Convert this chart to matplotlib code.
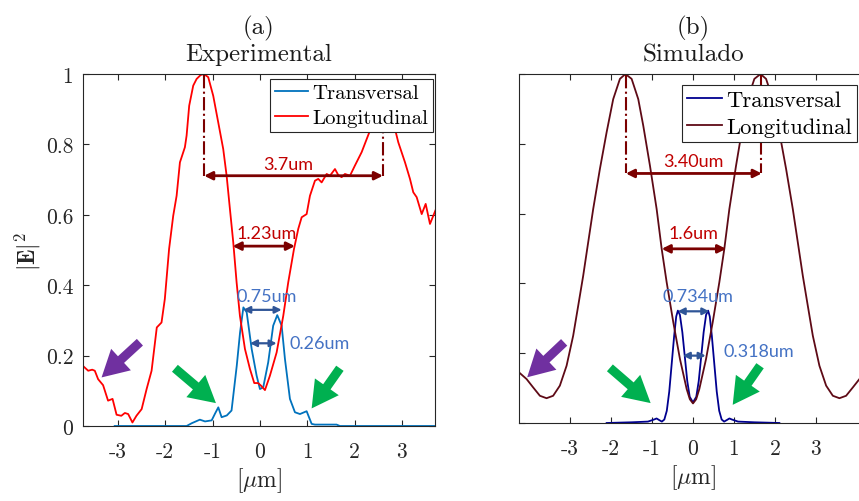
import matplotlib
matplotlib.use("Agg")
import matplotlib.pyplot as plt

plt.rcParams['font.family'] = ['cmr10']
plt.rcParams['mathtext.fontset'] = 'cm'
plt.rcParams['axes.formatter.use_mathtext'] = True

# ---------------- data: (a) experimental ----------------
exp_long_x = [-3.735, -3.63, -3.545, -3.49, -3.42, -3.315, -3.21, -3.115, -3.03, -2.93,
              -2.855, -2.785, -2.695, -2.61, -2.5, -2.395, -2.29, -2.18, -2.08, -2.01,
              -1.92, -1.833, -1.761, -1.691, -1.586, -1.55, -1.495, -1.41, -1.338, -1.254,
              -1.184, -1.093, -0.987, -0.882, -0.776, -0.704, -0.634, -0.564, -0.493, -0.423,
              -0.317, -0.211, -0.12, -0.04, 0.02, 0.106, 0.211, 0.353, 0.493, 0.598,
              0.72, 0.81, 0.882, 0.987, 1.057, 1.163, 1.233, 1.304, 1.41, 1.48,
              1.586, 1.655, 1.727, 1.797, 1.903, 2.008, 2.15, 2.256, 2.325, 2.45,
              2.6, 2.75, 2.854, 2.924, 3.066, 3.171, 3.241, 3.313, 3.419, 3.503,
              3.594, 3.72]
exp_long_y = [0.170, 0.157, 0.160, 0.157, 0.133, 0.116, 0.072, 0.077, 0.032, 0.029,
              0.037, 0.034, 0.010, 0.029, 0.048, 0.105, 0.157, 0.280, 0.294, 0.361,
              0.503, 0.597, 0.654, 0.749, 0.792, 0.825, 0.910, 0.967, 0.986, 0.997,
              1.000, 0.991, 0.938, 0.863, 0.787, 0.711, 0.616, 0.522, 0.408, 0.313,
              0.219, 0.162, 0.122, 0.122, 0.115, 0.102, 0.143, 0.209, 0.313, 0.408,
              0.503, 0.560, 0.593, 0.602, 0.654, 0.697, 0.702, 0.692, 0.716, 0.711,
              0.730, 0.713, 0.707, 0.716, 0.711, 0.740, 0.778, 0.815, 0.839, 0.865,
              0.875, 0.862, 0.844, 0.806, 0.749, 0.702, 0.664, 0.650, 0.602, 0.631,
              0.574, 0.616]

exp_trans_x = [-3.07, -1.55, -1.44, -1.27, -1.16, -1.02, -0.95, -0.88, -0.81, -0.70,
               -0.60, -0.49, -0.42, -0.35, -0.28, -0.175, -0.07, 0.0, 0.07, 0.175,
               0.28, 0.366, 0.459, 0.529, 0.634, 0.74, 0.846, 0.987, 1.093, 1.163,
               1.62, 1.69, 3.72]
exp_trans_y = [0.0, 0.0, 0.008, 0.018, 0.013, 0.016, 0.035, 0.053, 0.025, 0.030,
               0.044, 0.171, 0.266, 0.337, 0.323, 0.219, 0.143, 0.105, 0.110, 0.181,
               0.285, 0.315, 0.285, 0.190, 0.077, 0.039, 0.034, 0.042, 0.006, 0.004,
               0.004, 0.0, 0.0]

# ---------------- data: (b) simulated ----------------
sim_long_x = [-4.25, -4.066, -3.905, -3.74, -3.577, -3.416, -3.252, -3.088, -2.927, -2.804,
              -2.682, -2.584, -2.438, -2.274, -2.11, -1.949, -1.785, -1.65, -1.499, -1.337,
              -1.215, -1.051, -0.888, -0.765, -0.643, -0.482, -0.318, -0.154, -0.077, 0.0,
              0.077, 0.154, 0.318, 0.482, 0.643, 0.765, 0.888, 1.051, 1.215, 1.337,
              1.499, 1.65, 1.785, 1.949, 2.11, 2.274, 2.438, 2.584, 2.682, 2.804,
              2.927, 3.088, 3.252, 3.416, 3.577, 3.74, 3.905, 4.066, 4.25]
sim_long_y = [0.145, 0.126, 0.102, 0.078, 0.071, 0.078, 0.107, 0.164, 0.250, 0.336,
              0.422, 0.499, 0.613, 0.728, 0.833, 0.928, 0.986, 1.000, 0.986, 0.928,
              0.852, 0.737, 0.613, 0.499, 0.403, 0.289, 0.183, 0.097, 0.068, 0.056,
              0.068, 0.097, 0.183, 0.289, 0.403, 0.499, 0.613, 0.737, 0.852, 0.928,
              0.986, 1.000, 0.986, 0.928, 0.833, 0.728, 0.613, 0.499, 0.422, 0.336,
              0.250, 0.164, 0.107, 0.078, 0.071, 0.078, 0.102, 0.126, 0.145]

sim_trans_x = [-2.11, -1.5, -1.1, -0.95, -0.89, -0.82, -0.76, -0.70, -0.64, -0.58,
               -0.52, -0.46, -0.41, -0.37, -0.32, -0.26, -0.20, -0.14, -0.08, 0.0,
               0.08, 0.14, 0.20, 0.26, 0.32, 0.37, 0.41, 0.46, 0.52, 0.58,
               0.64, 0.70, 0.76, 0.82, 0.89, 0.95, 1.1, 1.5, 2.11]
sim_trans_y = [0.0, 0.002, 0.004, 0.010, 0.013, 0.008, 0.004, 0.010, 0.035, 0.090,
               0.170, 0.250, 0.305, 0.322, 0.310, 0.260, 0.190, 0.120, 0.075, 0.059,
               0.075, 0.120, 0.190, 0.260, 0.310, 0.322, 0.305, 0.250, 0.170, 0.090,
               0.035, 0.010, 0.004, 0.008, 0.013, 0.010, 0.004, 0.002, 0.0]

yticks = [0, 0.2, 0.4, 0.6, 0.8, 1]
ytick_labels = ['0', '0.2', '0.4', '0.6', '0.8', '1']
xticks = [-3, -2, -1, 0, 1, 2, 3]
xtick_labels = ['-3', '-2', '-1', '0', '1', '2', '3']

DRED = '#7B0000'
TRED = '#C00000'
DBLUE = '#2F5597'
TBLUE = '#4472C4'
PURPLE = '#7030A0'
GREEN = '#00B050'
ANN_FONT = ['Lato', 'DejaVu Sans']
ANN_SIZE = 13

fig = plt.figure(figsize=(8.59, 5.02), dpi=100)
axa = fig.add_axes([0.0966, 0.1494, 0.4098, 0.7012])
axb = fig.add_axes([0.6042, 0.1554, 0.4051, 0.6952])


def style(ax, xlim, labels):
    ax.set_xlim(*xlim)
    ax.set_ylim(0, 1)
    ax.set_xticks(xticks)
    ax.set_xticklabels(xtick_labels)
    ax.set_yticks(yticks)
    if labels:
        ax.set_yticklabels(ytick_labels)
    else:
        ax.set_yticklabels([])
    ax.tick_params(direction='in', top=True, right=True, length=4, width=0.8,
                   labelsize=15.5, colors='#262626')
    ax.tick_params(axis='x', pad=11)
    ax.tick_params(axis='y', pad=7)
    for s in ax.spines.values():
        s.set_color('#262626')
        s.set_linewidth(0.8)
    ax.set_xlabel(r'$[\mu\mathrm{m}]$', fontsize=17, color='#262626', labelpad=3)


def darrow(ax, x0, x1, y, color, lw=2.0, ms=12):
    ax.annotate('', xy=(x1, y), xytext=(x0, y),
                arrowprops=dict(arrowstyle='<|-|>', color=color, lw=lw,
                                mutation_scale=ms, shrinkA=0, shrinkB=0))


def block(ax, tail, tip, color):
    ax.annotate('', xy=tip, xytext=tail,
                arrowprops=dict(width=6.5, headwidth=21, headlength=19, color=color,
                                shrinkA=0, shrinkB=0, lw=0))


# ---------- panel (a) ----------
axa.plot(exp_trans_x, exp_trans_y, color='#0072BD', lw=1.3, label='Transversal')
axa.plot(exp_long_x, exp_long_y, color='#FF0000', lw=1.3, label='Longitudinal')
style(axa, (-3.74, 3.70), True)
axa.set_title('(a)\nExperimental', fontsize=18, color='#1a1a1a', linespacing=1.15, pad=10)
axa.set_ylabel(r'$|\mathbf{E}|^2$', fontsize=17, color='#262626', labelpad=2)
leg = axa.legend(loc='upper right', bbox_to_anchor=(0.994, 0.986), borderaxespad=0,
                 fontsize=15, handlelength=1.6, handletextpad=0.2, borderpad=0.22,
                 labelspacing=0.3, fancybox=False, framealpha=1, edgecolor='#262626')
leg.get_frame().set_linewidth(0.8)
leg.set_zorder(10)

axa.plot([-1.18, -1.18], [0.997, 0.711], ls='-.', color=DRED, lw=1.5)
axa.plot([2.60, 2.60], [0.87, 0.711], ls='-.', color=DRED, lw=1.5)
darrow(axa, -1.18, 2.60, 0.711, DRED)
axa.text(0.60, 0.745, '3.7um', color=TRED, fontsize=ANN_SIZE, ha='center', va='center', family=ANN_FONT)
darrow(axa, -0.577, 0.74, 0.511, DRED)
axa.text(0.14, 0.549, '1.23um', color=TRED, fontsize=ANN_SIZE, ha='center', va='center', family=ANN_FONT)
darrow(axa, -0.353, 0.459, 0.330, DBLUE, lw=1.6, ms=10)
axa.text(0.14, 0.370, '0.75um', color=TBLUE, fontsize=ANN_SIZE, ha='center', va='center', family=ANN_FONT)
darrow(axa, -0.211, 0.353, 0.235, DBLUE, lw=1.6, ms=10)
axa.text(0.63, 0.237, '0.26um', color=TBLUE, fontsize=ANN_SIZE, ha='left', va='center', family=ANN_FONT)

block(axa, (-2.537, 0.238), (-3.347, 0.138), PURPLE)
block(axa, (-1.797, 0.164), (-0.93, 0.065), GREEN)
block(axa, (1.69, 0.164), (1.093, 0.050), GREEN)

# ---------- panel (b) ----------
axb.plot(sim_trans_x, sim_trans_y, color='#00008F', lw=1.3, label='Transversal')
axb.plot(sim_long_x, sim_long_y, color='#5E0A16', lw=1.3, label='Longitudinal')
style(axb, (-4.25, 4.25), False)
axb.set_title('(b)\nSimulado', fontsize=18, color='#1a1a1a', linespacing=1.15, pad=10)
leg = axb.legend(loc='upper right', bbox_to_anchor=(0.971, 0.968), borderaxespad=0,
                 fontsize=16.3, handlelength=1.55, handletextpad=0.2, borderpad=0.22,
                 labelspacing=0.3, fancybox=False, framealpha=1, edgecolor='#262626')
leg.get_frame().set_linewidth(0.8)
leg.set_zorder(10)

axb.plot([-1.64, -1.64], [0.997, 0.715], ls='-.', color=DRED, lw=1.5)
axb.plot([1.67, 1.67], [0.997, 0.715], ls='-.', color=DRED, lw=1.5)
darrow(axb, -1.64, 1.68, 0.715, DRED)
axb.text(0.02, 0.750, '3.40um', color=TRED, fontsize=ANN_SIZE, ha='center', va='center', family=ANN_FONT)
darrow(axb, -0.765, 0.81, 0.499, DRED)
axb.text(0.0, 0.544, '1.6um', color=TRED, fontsize=ANN_SIZE, ha='center', va='center', family=ANN_FONT)
darrow(axb, -0.375, 0.40, 0.320, DBLUE, lw=1.6, ms=10)
axb.text(0.13, 0.364, '0.734um', color=TBLUE, fontsize=ANN_SIZE, ha='center', va='center', family=ANN_FONT)
darrow(axb, -0.25, 0.31, 0.193, DBLUE, lw=1.6, ms=10)
axb.text(0.74, 0.206, '0.318um', color=TBLUE, fontsize=ANN_SIZE, ha='left', va='center', family=ANN_FONT)

block(axb, (-3.147, 0.231), (-4.05, 0.131), PURPLE)
block(axb, (-2.03, 0.158), (-1.035, 0.057), GREEN)
block(axb, (1.638, 0.164), (0.97, 0.052), GREEN)

fig.savefig('out.png', dpi=100)
